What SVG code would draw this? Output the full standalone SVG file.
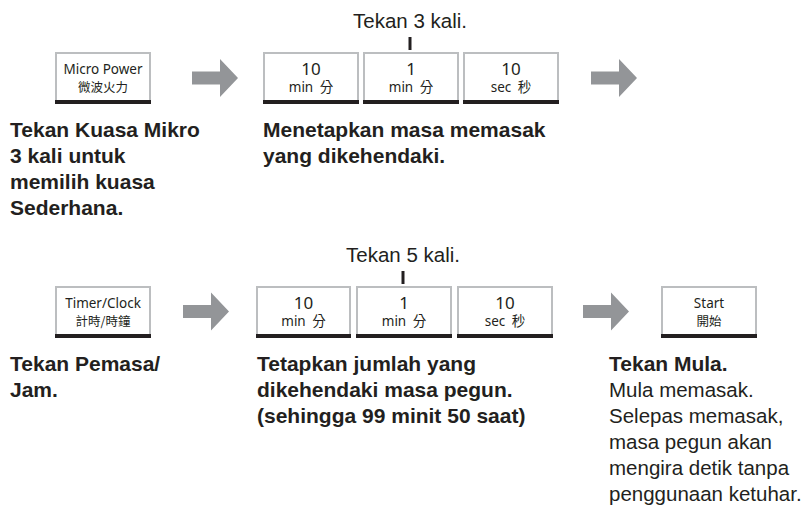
<svg xmlns="http://www.w3.org/2000/svg" width="811" height="509" viewBox="0 0 811 509">
<defs>
<style>
.box{fill:#fff;stroke:#bcbec0;stroke-width:2}
.bar{fill:#231f20}
.arrow{fill:#939598}
.tick{stroke:#231f20;stroke-width:3}
.k1{font-family:"Noto Sans","Open Sans",sans-serif;font-size:13.5px;fill:#231f20;text-anchor:middle}
.kn{font-family:"Noto Sans","Open Sans",sans-serif;font-size:17px;fill:#231f20;text-anchor:middle}
.ku{font-family:"Noto Sans","Noto Sans CJK TC",sans-serif;font-size:13.5px;fill:#231f20;text-anchor:middle}
.kc{font-family:"Noto Sans CJK TC","Noto Sans CJK SC",sans-serif;font-size:12.5px;fill:#231f20;text-anchor:middle}
.b{font-family:"Liberation Sans",Arial,sans-serif;font-weight:bold;font-size:21px;fill:#231f20}
.r{font-family:"Liberation Sans",Arial,sans-serif;font-size:20.5px;fill:#231f20}
.rc{font-family:"Liberation Sans",Arial,sans-serif;font-size:20.5px;fill:#231f20;text-anchor:middle}
</style>
<path id="arr" class="arrow" d="M0,-6.5 H28 V-19 L46,0 L28,19 V6.5 H0 Z"/>
</defs>

<g id="connectors">
<use href="#arr" x="192" y="78"/>
<use href="#arr" x="591" y="78"/>
<use href="#arr" x="183" y="311.5"/>
<use href="#arr" x="583" y="311.5"/>
<line class="tick" x1="410" y1="37" x2="410" y2="50"/>
<line class="tick" x1="403" y1="271" x2="403" y2="284"/>
</g>

<g id="label-tekan3"><text class="rc" x="410" y="28">Tekan 3 kali.</text></g>
<g id="label-tekan5"><text class="rc" x="403" y="262">Tekan 5 kali.</text></g>

<g id="btn-micro">
<rect class="box" x="56" y="53" width="94" height="48"/>
<rect class="bar" x="55" y="100" width="96" height="4"/>
<text class="k1" x="103" y="74">Micro Power</text>
<text class="kc" x="103" y="92">微波火力</text>
</g>

<g id="btn-r1-10min">
<rect class="box" x="264" y="53" width="94" height="48"/>
<rect class="bar" x="263" y="100" width="96" height="4"/>
<text class="kn" x="311" y="75">10</text>
<text class="ku" x="311" y="92">min <tspan dx="3">分</tspan></text>
</g>
<g id="btn-r1-1min">
<rect class="box" x="364" y="53" width="94" height="48"/>
<rect class="bar" x="363" y="100" width="96" height="4"/>
<text class="kn" x="411" y="75">1</text>
<text class="ku" x="411" y="92">min <tspan dx="3">分</tspan></text>
</g>
<g id="btn-r1-10sec">
<rect class="box" x="464" y="53" width="94" height="48"/>
<rect class="bar" x="463" y="100" width="96" height="4"/>
<text class="kn" x="511" y="75">10</text>
<text class="ku" x="511" y="92">sec <tspan dx="3">秒</tspan></text>
</g>

<g id="btn-timer">
<rect class="box" x="56" y="287" width="94" height="48"/>
<rect class="bar" x="55" y="334" width="96" height="4"/>
<text class="k1" x="103" y="308">Timer/Clock</text>
<text class="kc" x="103" y="326">計時/時鐘</text>
</g>
<g id="btn-r2-10min">
<rect class="box" x="257" y="287" width="93" height="48"/>
<rect class="bar" x="256" y="334" width="95" height="4"/>
<text class="kn" x="303.5" y="309">10</text>
<text class="ku" x="303.5" y="326">min <tspan dx="3">分</tspan></text>
</g>
<g id="btn-r2-1min">
<rect class="box" x="357" y="287" width="94" height="48"/>
<rect class="bar" x="356" y="334" width="96" height="4"/>
<text class="kn" x="404" y="309">1</text>
<text class="ku" x="404" y="326">min <tspan dx="3">分</tspan></text>
</g>
<g id="btn-r2-10sec">
<rect class="box" x="458" y="287" width="94" height="48"/>
<rect class="bar" x="457" y="334" width="96" height="4"/>
<text class="kn" x="505" y="309">10</text>
<text class="ku" x="505" y="326">sec <tspan dx="3">秒</tspan></text>
</g>
<g id="btn-start">
<rect class="box" x="662" y="287" width="94" height="48"/>
<rect class="bar" x="661" y="334" width="96" height="4"/>
<text class="k1" x="709" y="308">Start</text>
<text class="kc" x="709" y="326">開始</text>
</g>

<g id="text-step1">
<text class="b" x="10" y="137">Tekan Kuasa Mikro</text>
<text class="b" x="10" y="163">3 kali untuk</text>
<text class="b" x="10" y="189">memilih kuasa</text>
<text class="b" x="10" y="215">Sederhana.</text>
</g>
<g id="text-step2">
<text class="b" x="263" y="137">Menetapkan masa memasak</text>
<text class="b" x="263" y="163">yang dikehendaki.</text>
</g>
<g id="text-step3">
<text class="b" x="10" y="371">Tekan Pemasa/</text>
<text class="b" x="10" y="397">Jam.</text>
</g>
<g id="text-step4">
<text class="b" x="257" y="371">Tetapkan jumlah yang</text>
<text class="b" x="257" y="397">dikehendaki masa pegun.</text>
<text class="b" x="257" y="423">(sehingga 99 minit 50 saat)</text>
</g>
<g id="text-step5">
<text class="b" x="609" y="371">Tekan Mula.</text>
<text class="r" x="609" y="397">Mula memasak.</text>
<text class="r" x="609" y="423">Selepas memasak,</text>
<text class="r" x="609" y="449">masa pegun akan</text>
<text class="r" x="609" y="475">mengira detik tanpa</text>
<text class="r" x="609" y="501">penggunaan ketuhar.</text>
</g>
</svg>
